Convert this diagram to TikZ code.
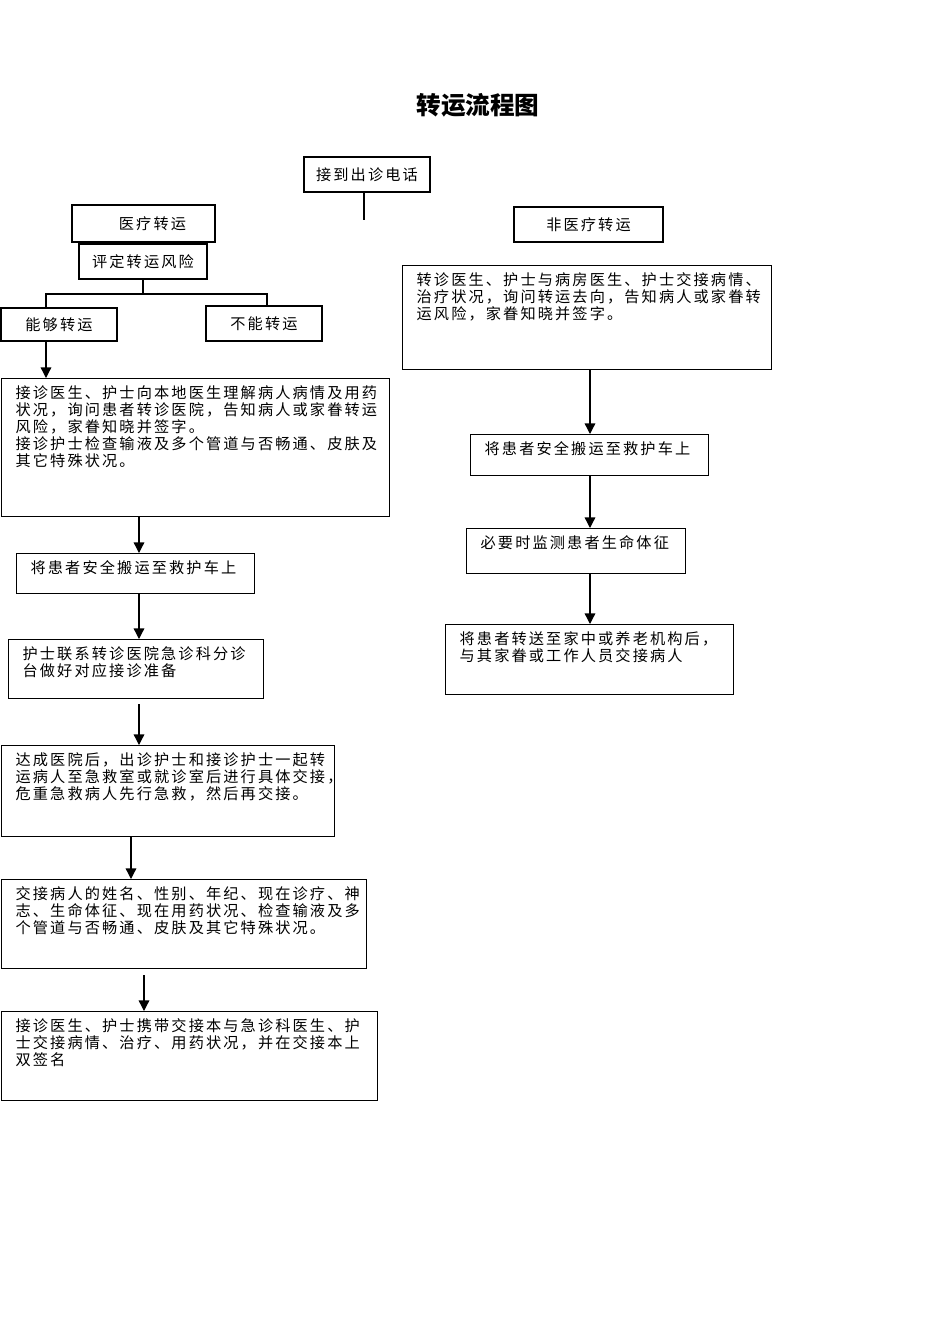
\documentclass[tikz,border=0pt]{standalone}
\usepackage{fontspec}
\usepackage{tikz}
\usetikzlibrary{arrows.meta}
\newfontfamily\cjk[LetterSpace=14]{Noto Sans CJK SC}
\newfontfamily\cjktitle{Noto Sans CJK SC}

\begin{document}
\begin{tikzpicture}[
  x=0.025cm, y=-0.025cm,
  every node/.style={font=\cjk\fontsize{10.8}{12.1}\selectfont},
  snode/.style={
    draw, line width=0.9pt, inner sep=0pt, align=center
  },
  tnode/.style={
    draw, line width=0.9pt, anchor=north west, align=left,
    inner xsep=0.35cm, inner ysep=0.2cm, text height=0.3cm
  },
  arr/.style={-{Triangle[length=7.5pt,width=7.5pt]}, line width=0.9pt},
  conn/.style={line width=0.9pt}
]
\useasboundingbox (0,0) rectangle (950,1344);

\node[font=\cjktitle\bfseries\fontsize{17.5}{20}\selectfont] (TITLE) at (478,105) {转运流程图};

%% Kopf
\node[snode, minimum width=3.15cm, minimum height=0.875cm] (CALL) at (367,174.5) {接到出诊电话};
\node[snode, minimum width=3.575cm, minimum height=0.925cm] (MED) at (143.5,223.5) {\hspace*{0.45cm}医疗转运};
\node[snode, minimum width=3.2cm, minimum height=0.875cm] (RISK) at (143,261.5) {评定转运风险};
\node[snode, minimum width=2.9cm, minimum height=0.825cm] (ABLE) at (59,324.5) {能够转运};
\node[snode, minimum width=2.9cm, minimum height=0.875cm] (UNABLE) at (264,323.5) {不能转运};
\node[snode, minimum width=3.725cm, minimum height=0.875cm] (NONMED) at (588.5,224.5) {非医疗转运};

%% linke Spalte
\node[tnode, text width=9.0cm, text depth=2.75cm] (L1) at (1,378)
  {接诊医生、护士向本地医生理解病人病情及用药\\状况，询问患者转诊医院，告知病人或家眷转运\\风险，家眷知晓并签字。\\接诊护士检查输液及多个管道与否畅通、皮肤及\\其它特殊状况。};
\node[tnode, text width=5.25cm, text depth=0.3cm] (L2) at (16,553)
  {将患者安全搬运至救护车上};
\node[tnode, text width=5.675cm, text depth=0.775cm] (L3) at (8,639)
  {护士联系转诊医院急诊科分诊\\台做好对应接诊准备};
\node[tnode, text width=7.625cm, text depth=1.575cm] (L4) at (1,745)
  {达成医院后，出诊护士和接诊护士一起转\\运病人至急救室或就诊室后进行具体交接，\\危重急救病人先行急救，然后再交接。};
\node[tnode, text width=8.425cm, text depth=1.525cm] (L5) at (1,879)
  {交接病人的姓名、性别、年纪、现在诊疗、神\\志、生命体征、现在用药状况、检查输液及多\\个管道与否畅通、皮肤及其它特殊状况。};
\node[tnode, text width=8.7cm, text depth=1.525cm] (L6) at (1,1011)
  {接诊医生、护士携带交接本与急诊科医生、护\\士交接病情、治疗、用药状况，并在交接本上\\双签名};

%% rechte Spalte
\node[tnode, text width=8.525cm, text depth=1.9cm] (R1) at (402,265)
  {转诊医生、护士与病房医生、护士交接病情、\\治疗状况，询问转运去向，告知病人或家眷转\\运风险，家眷知晓并签字。};
\node[tnode, text width=5.25cm, text depth=0.325cm] (R2) at (470,434)
  {将患者安全搬运至救护车上};
\node[tnode, text width=4.775cm, text depth=0.425cm] (R3) at (466,528)
  {必要时监测患者生命体征};
\node[tnode, text width=6.5cm, text depth=1.05cm] (R4) at (445,624)
  {将患者转送至家中或养老机构后，\\与其家眷或工作人员交接病人};

%% Hilfspunkte
\coordinate (callend) at (364,220);
\coordinate (forkL) at (46,294);
\coordinate (forkR) at (267,294);
\coordinate (colA) at (139,0);
\coordinate (colB) at (131,0);
\coordinate (colC) at (144,0);
\coordinate (colR) at (590,0);

%% Verbindungen
\draw[conn] (callend |- CALL.south) -- (callend);
\draw[conn] (RISK.south) -- (RISK.south |- forkL);
\draw[conn] (forkL |- ABLE.north) -- (forkL) -- (forkR) -- (forkR |- UNABLE.north);
\draw[arr] (forkL |- ABLE.south) -- (forkL |- L1.north);

\draw[arr] (colA |- L1.south) -- (colA |- L2.north);
\draw[arr] (colA |- L2.south) -- (colA |- L3.north);
\draw[arr, shorten <=0.12cm] (colA |- L3.south) -- (colA |- L4.north);
\draw[arr] (colB |- L4.south) -- (colB |- L5.north);
\draw[arr, shorten <=0.15cm] (colC |- L5.south) -- (colC |- L6.north);

\draw[arr] (colR |- R1.south) -- (colR |- R2.north);
\draw[arr] (colR |- R2.south) -- (colR |- R3.north);
\draw[arr] (colR |- R3.south) -- (colR |- R4.north);

\end{tikzpicture}
\end{document}
